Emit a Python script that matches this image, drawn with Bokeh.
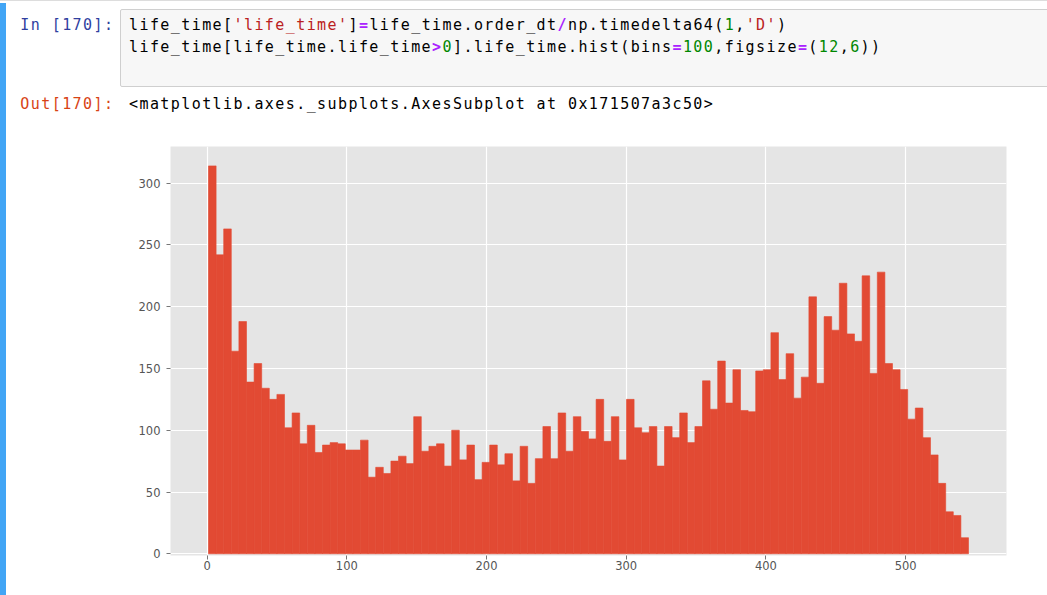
import html
import numpy as np
from bokeh.plotting import figure
from bokeh.models import Div, Range1d, FixedTicker, ColumnDataSource
from bokeh.layouts import column, row
from bokeh.embed import file_html
from bokeh.resources import INLINE

# ---------------- data ----------------
counts = [314, 242, 263, 164, 188, 139, 154, 134, 125, 129,
          102, 114, 89, 104, 82, 88, 90, 89, 84, 84,
          92, 62, 70, 65, 75, 79, 73, 111, 83, 87,
          89, 71, 100, 76, 88, 60, 74, 88, 72, 81,
          59, 87, 57, 77, 103, 77, 114, 83, 111, 99,
          93, 125, 91, 111, 76, 125, 102, 98, 103, 71,
          103, 94, 114, 90, 103, 140, 117, 156, 122, 149,
          116, 115, 148, 149, 179, 141, 162, 126, 143, 208,
          138, 192, 181, 219, 178, 172, 225, 146, 228, 154,
          149, 133, 109, 118, 94, 80, 57, 34, 31, 13]
bin_min = 1.0
bin_max = 545.0
n_bins = 100
x_ticks = [0, 100, 200, 300, 400, 500]
y_ticks = [0, 50, 100, 150, 200, 250, 300]

in_prompt = "In [170]:"
out_prompt = "Out[170]:"
code_line1 = [("life_time[", "n"), ("'life_time'", "s"), ("]", "n"), ("=", "o"),
              ("life_time.order_dt", "n"), ("/", "o"), ("np.timedelta64(", "n"),
              ("1", "d"), (",", "n"), ("'D'", "s"), (")", "n")]
code_line2 = [("life_time[life_time.life_time", "n"), (">", "o"), ("0", "d"),
              ("].life_time.hist(bins", "n"), ("=", "o"), ("100", "d"),
              (",figsize", "n"), ("=", "o"), ("(", "n"), ("12", "d"), (",", "n"),
              ("6", "d"), ("))", "n")]
out_text = "<matplotlib.axes._subplots.AxesSubplot at 0x171507a3c50>"

# ---------------- notebook chrome (Divs) ----------------
STY = {"n": "color:#000000;", "s": "color:#BA2121;", "o": "color:#AA22FF;font-weight:bold;",
       "d": "color:#008800;"}
MONO = ("font-family:'DejaVu Sans Mono',monospace;font-size:15px;letter-spacing:1.42px;"
        "white-space:pre;line-height:21px;")


def code_html(parts):
    return "".join('<span style="%s">%s</span>' % (STY[k], html.escape(t)) for t, k in parts)


bar_div = Div(text=('<div style="position:relative;width:6px;height:595px;overflow:hidden;">'
                    '<div style="position:absolute;left:0;top:0;width:6px;height:1px;background:#dddddd;"></div>'
                    '<div style="position:absolute;left:0;top:3px;width:6px;height:600px;background:#42A5F5;"></div>'
                    '</div>'),
              width=6, height=595, margin=(0, 0, 0, 0))

header = (
    '<div style="position:relative;width:1041px;height:128px;overflow:hidden;background:#ffffff;">'
    '<div style="position:absolute;left:0;top:0;width:1041px;height:1px;background:#dddddd;"></div>'
    '<div style="position:absolute;left:114px;top:9px;width:1000px;height:78px;'
    'background:#f7f7f7;border:1px solid #cfcfcf;border-radius:2px;box-sizing:border-box;"></div>'
    f'<div style="position:absolute;left:0px;top:15px;width:108.4px;text-align:right;{MONO}color:#303F9F;">{html.escape(in_prompt)}</div>'
    f'<div style="position:absolute;left:123px;top:15px;{MONO}">{code_html(code_line1)}</div>'
    f'<div style="position:absolute;left:123px;top:37px;{MONO}">{code_html(code_line2)}</div>'
    f'<div style="position:absolute;left:0px;top:93.5px;width:108.4px;text-align:right;{MONO}color:#D84315;">{html.escape(out_prompt)}</div>'
    f'<div style="position:absolute;left:123px;top:93.5px;{MONO}color:#000000;">{html.escape(out_text)}</div>'
    '</div>'
)
div = Div(text=header, width=1041, height=128, margin=(0, 0, 0, 0))

# ---------------- histogram ----------------
edges = np.linspace(bin_min, bin_max, n_bins + 1)
src = ColumnDataSource(dict(left=edges[:-1], right=edges[1:], top=counts,
                            bottom=[0] * len(counts)))

span = bin_max - bin_min
x_lo, x_hi = bin_min - 0.05 * span, bin_max + 0.05 * span
y_hi = max(counts) * 1.05

p = figure(width=1041, height=467, output_backend="svg", toolbar_location=None,
           x_range=Range1d(x_lo, x_hi), y_range=Range1d(-1.4, y_hi),
           min_border_left=164, min_border_right=41, min_border_top=18, min_border_bottom=40,
           margin=(0, 0, 0, 0))
p.background_fill_color = "#E5E5E5"
p.border_fill_color = "#FFFFFF"
p.outline_line_color = None

p.quad(left="left", right="right", top="top", bottom="bottom", source=src,
       fill_color="#E24A33", line_color="#E24A33", line_width=0.6)

p.xgrid.grid_line_color = "#FFFFFF"
p.ygrid.grid_line_color = "#FFFFFF"
p.xgrid.grid_line_width = 1.2
p.ygrid.grid_line_width = 1.2
p.grid.level = "underlay"

p.xaxis.ticker = FixedTicker(ticks=x_ticks)
p.yaxis.ticker = FixedTicker(ticks=y_ticks)
for ax in (p.xaxis[0], p.yaxis[0]):
    ax.axis_line_color = None
    ax.major_tick_in = 0
    ax.major_tick_out = 4
    ax.minor_tick_line_color = None
    ax.major_tick_line_color = "#777777"
    ax.major_label_text_color = "#555555"
    ax.major_label_text_font = "DejaVu Sans"
    ax.major_label_text_font_size = "11.5px"
p.xaxis.major_label_standoff = 1
p.yaxis.major_label_standoff = 6

layout = row(bar_div, column(div, p, spacing=0), spacing=0)
open("out.html", "w").write(file_html(layout, INLINE))
